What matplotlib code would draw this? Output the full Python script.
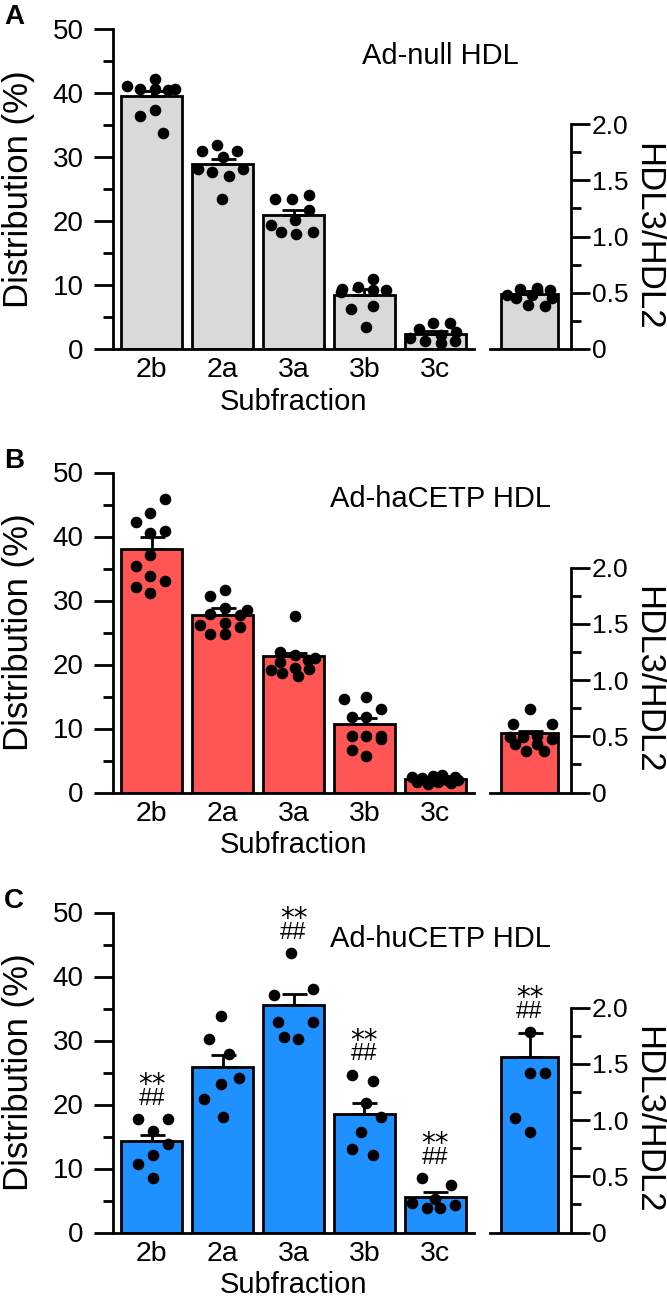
import numpy as np
import matplotlib
matplotlib.use('Agg')
import matplotlib.pyplot as plt

plt.rcParams['font.family'] = ['Liberation Sans', 'DejaVu Sans']

subfractions = ['2b', '2a', '3a', '3b', '3c']

# Ad-null HDL
null_mean = [39.5, 28.9, 20.9, 8.4, 2.3]
null_sem = [0.8, 0.75, 0.8, 0.9, 0.5]
null_pts = [
    [41.1, 40.7, 42.2, 40.7, 40.4, 40.7, 36.4, 37.4, 33.7],
    [30.9, 31.8, 30.9, 30.0, 28.1, 27.6, 27.1, 28.1, 23.5],
    [23.5, 23.5, 24.0, 21.7, 20.1, 19.3, 18.3, 17.9, 18.3],
    [9.4, 9.7, 10.9, 9.15, 9.15, 6.2, 6.75, 3.5, 8.9],
    [3.1, 4.0, 4.0, 2.7, 1.7, 1.3, 0.9, 1.3, 2.2],
]
null_ratio_mean = 0.49
null_ratio_sem = 0.03
null_ratio_pts = [0.482, 0.533, 0.542, 0.527, 0.453, 0.393, 0.378, 0.453, 0.476]

# Ad-haCETP HDL
ha_mean = [38.0, 27.8, 21.3, 10.7, 2.1]
ha_sem = [1.9, 1.0, 0.45, 0.95, 0.2]
ha_pts = [
    [45.9, 43.75, 42.3, 40.6, 40.8, 37.1, 35.4, 33.8, 33.0, 32.1, 31.1],
    [30.7, 31.7, 28.9, 28.5, 27.9, 26.2, 26.5, 25.9, 24.8, 24.8, 27.7],
    [27.6, 21.9, 21.5, 21.0, 20.4, 19.1, 18.7, 19.5, 19.3, 18.2, 20.7],
    [14.6, 15.0, 13.1, 11.8, 11.8, 8.9, 8.9, 8.9, 8.4, 6.7, 5.7],
    [2.5, 1.6, 2.3, 1.4, 2.6, 1.7, 2.8, 2.0, 1.5, 2.4, 2.0],
]
ha_ratio_mean = 0.526
ha_ratio_sem = 0.02
ha_ratio_pts = [0.742, 0.609, 0.609, 0.49, 0.49, 0.505, 0.476, 0.432, 0.372, 0.372, 0.432]

# Ad-huCETP HDL
hu_mean = [14.3, 25.9, 35.5, 18.5, 5.6]
hu_sem = [0.9, 1.8, 1.7, 1.8, 0.8]
hu_pts = [
    [17.7, 17.7, 15.9, 13.9, 12.1, 10.7, 8.5],
    [33.8, 30.2, 27.9, 24.1, 23.2, 20.8, 18.1],
    [43.6, 37.1, 38.0, 32.9, 32.9, 30.6, 30.2],
    [24.6, 23.7, 20.2, 18.1, 15.7, 13.1, 12.1],
    [8.5, 7.5, 4.65, 3.8, 3.8, 4.3, 5.3],
]
hu_ratio_mean = 1.56
hu_ratio_sem = 0.215
hu_ratio_pts = [1.778, 1.419, 1.419, 1.021, 0.889]
hu_sig = [True, False, True, True, True]

# horizontal spread of the dots inside each bar
null_jit = [
    [-0.35, -0.17, 0.04, 0.04, 0.23, 0.33, -0.17, 0.04, 0.16],
    [-0.29, -0.08, 0.2, 0.01, -0.35, -0.15, 0.09, 0.28, -0.01],
    [-0.26, -0.02, 0.22, 0.22, 0.02, -0.32, -0.17, 0.04, 0.27],
    [-0.31, -0.09, 0.12, 0.12, 0.31, -0.19, 0.12, 0.02, -0.33],
    [-0.23, -0.03, 0.21, 0.29, -0.35, -0.14, 0.09, 0.28, 0.09],
]
null_ratio_jit = [-0.32, -0.14, 0.11, 0.29, -0.19, -0.02, 0.22, 0.31, 0.03]
ha_jit = [
    [0.19, -0.03, -0.23, -0.03, 0.19, -0.03, -0.23, -0.03, 0.19, -0.23, -0.03],
    [-0.18, 0.03, 0.03, 0.34, -0.18, -0.32, 0.03, 0.24, -0.18, 0.03, 0.24],
    [0.02, -0.19, 0.02, 0.3, -0.19, -0.32, -0.16, 0.02, 0.22, 0.06, 0.21],
    [-0.28, 0.02, 0.24, -0.18, 0.02, -0.18, 0.02, 0.24, 0.24, -0.18, 0.02],
    [-0.33, -0.26, -0.18, -0.1, -0.03, 0.04, 0.1, 0.17, 0.22, 0.28, 0.33],
]
ha_ratio_jit = [0.0, -0.23, 0.31, -0.28, -0.09, 0.1, 0.31, -0.21, -0.05, 0.2, 0.1]
hu_jit = [
    [-0.19, 0.22, 0.01, 0.22, 0.01, -0.19, 0.01],
    [-0.02, -0.2, 0.09, 0.23, -0.02, -0.26, 0.01],
    [-0.04, -0.27, 0.27, -0.22, 0.27, -0.14, 0.06],
    [-0.18, 0.12, 0.03, 0.24, -0.05, -0.18, 0.12],
    [-0.19, 0.23, -0.32, -0.12, 0.07, 0.28, 0.0],
]
hu_ratio_jit = [0.0, 0.0, 0.22, -0.21, 0.0]

W, H = 667, 1297
fig = plt.figure(figsize=(W / 100, H / 100), dpi=100)


def px_rect(left, right, bottom, height):
    return [left / W, (H - bottom) / H, (right - left) / W, height / H]


def style_spines(ax, visible):
    for k, sp in ax.spines.items():
        sp.set_visible(k in visible)
        sp.set_linewidth(2)


def mark_sig(ax, x, y):
    ax.annotate('##', xy=(x, y), xytext=(0, 10.5), textcoords='offset points',
                ha='center', va='baseline', fontsize=17)
    ax.annotate('**', xy=(x, y), xytext=(0, 19), textcoords='offset points',
                ha='center', va='baseline', fontsize=20, family='DejaVu Sans')


def draw_panel(bottom, color, letter, title, means, sems, pts, jit,
               r_mean, r_sem, r_pts, r_jit, sig=None, r_sig=False):
    ax = fig.add_axes(px_rect(113, 474, bottom, 320))
    x = np.arange(len(subfractions))
    ax.bar(x, means, width=0.86, color=color, edgecolor='black', linewidth=2, zorder=2)
    ax.errorbar(x, means, yerr=[np.zeros(len(x)), sems], fmt='none', ecolor='black',
                elinewidth=2, capsize=9, capthick=2, zorder=3)
    for i in range(len(x)):
        ax.scatter(x[i] + np.array(jit[i]), pts[i], s=70, color='black',
                   linewidths=0, zorder=4, clip_on=False)
        if sig is not None and sig[i]:
            mark_sig(ax, x[i], max(pts[i]))
    ax.set_xlim(-0.55, 4.55)
    ax.set_ylim(0, 50)
    style_spines(ax, ['left', 'bottom'])
    ax.set_yticks(range(0, 51, 10))
    ax.set_yticks(range(5, 50, 10), minor=True)
    ax.tick_params(axis='y', which='major', length=13.5, width=2, labelsize=20, pad=7.5)
    ax.tick_params(axis='y', which='minor', length=7, width=2)
    ax.set_xticks(x, subfractions)
    ax.tick_params(axis='x', length=0, labelsize=20.5, pad=6)
    ax.set_ylabel('Distribution (%)', fontsize=25)
    ax.yaxis.set_label_coords(-0.216, 0.5)
    ax.set_xlabel('Subfraction', fontsize=21)
    ax.xaxis.set_label_coords(0.5, -0.121)
    ax.text(0.906, 0.917, title, transform=ax.transAxes, ha='center', va='center',
            fontsize=21, clip_on=False)
    fig.text(4 / W, 1 - (bottom - 345) / H, letter, fontsize=20, fontweight='bold',
             ha='left', va='top')

    ax2 = fig.add_axes(px_rect(490, 571, bottom, 225))
    ax2.bar([0], [r_mean], width=0.81, color=color, edgecolor='black', linewidth=2, zorder=2)
    ax2.errorbar([0], [r_mean], yerr=[[0], [r_sem]], fmt='none', ecolor='black',
                 elinewidth=2, capsize=9, capthick=2, zorder=3)
    ax2.scatter(np.array(r_jit), r_pts, s=70, color='black', linewidths=0,
                zorder=4, clip_on=False)
    if r_sig:
        mark_sig(ax2, 0, max(r_pts))
    ax2.set_xlim(-0.56, 0.585)
    ax2.set_ylim(0, 2.0)
    style_spines(ax2, ['right', 'bottom'])
    ax2.yaxis.tick_right()
    ax2.set_yticks([0, 0.5, 1.0, 1.5, 2.0], ['0', '0.5', '1.0', '1.5', '2.0'])
    ax2.set_yticks([0.25, 0.75, 1.25, 1.75], minor=True)
    ax2.tick_params(axis='y', which='major', length=13.5, width=2, labelsize=19, pad=1.5)
    ax2.tick_params(axis='y', which='minor', length=7, width=2)
    ax2.set_xticks([])
    ax2.text(1.944, 0.5, 'HDL3/HDL2', transform=ax2.transAxes, rotation=270,
             ha='center', va='center', fontsize=25, clip_on=False)


draw_panel(349, '#d9d9d9', 'A', 'Ad-null HDL', null_mean, null_sem, null_pts, null_jit,
           null_ratio_mean, null_ratio_sem, null_ratio_pts, null_ratio_jit)
draw_panel(792.5, '#ff5555', 'B', 'Ad-haCETP HDL', ha_mean, ha_sem, ha_pts, ha_jit,
           ha_ratio_mean, ha_ratio_sem, ha_ratio_pts, ha_ratio_jit)
draw_panel(1232.5, '#1e90ff', 'C', 'Ad-huCETP HDL', hu_mean, hu_sem, hu_pts, hu_jit,
           hu_ratio_mean, hu_ratio_sem, hu_ratio_pts, hu_ratio_jit,
           sig=hu_sig, r_sig=True)

fig.savefig('out.png', dpi=100, facecolor='white')
